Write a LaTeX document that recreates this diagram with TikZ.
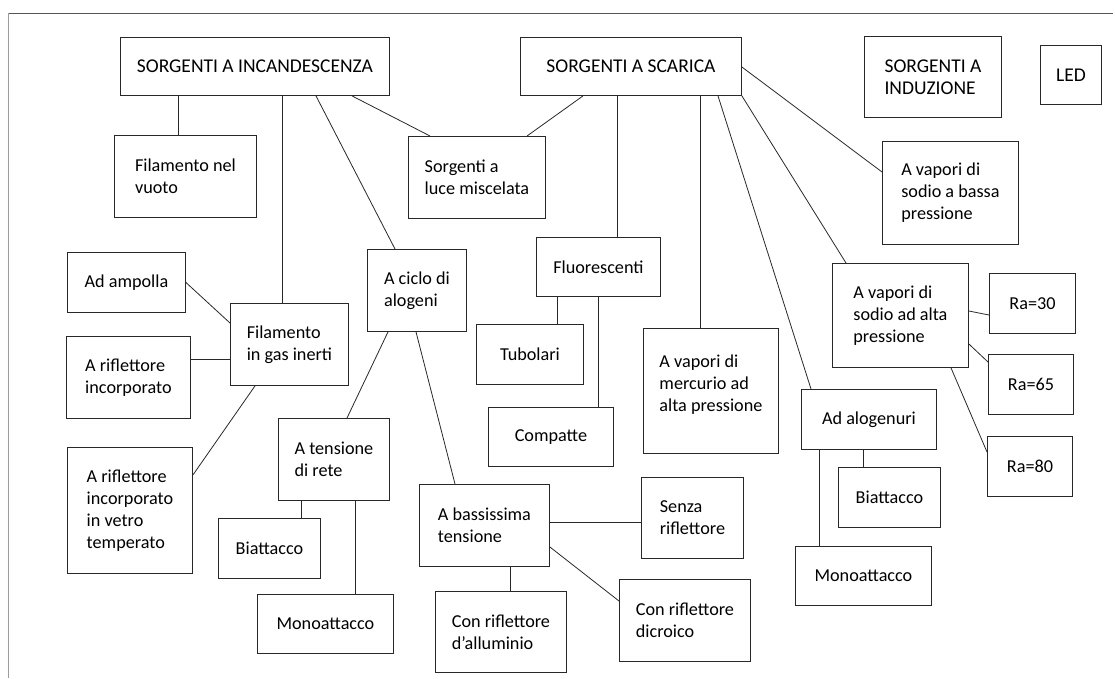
\documentclass[tikz,border=0pt]{standalone}
\usepackage{fontspec}
\setmainfont{Carlito}
\definecolor{linegrey}{RGB}{40,40,40}
\definecolor{framegrey}{RGB}{85,85,85}
\definecolor{sidegrey}{RGB}{160,156,156}

\begin{document}
\begin{tikzpicture}[x=1pt, y=-1pt,
  voce/.style 2 args={draw=linegrey, line width=0.9pt, anchor=north west, align=left,
    inner sep=0pt, minimum width=#1pt, minimum height=#2pt,
    font=\fontsize{18.2}{22}\selectfont},
  titolo/.style={font=\fontsize{19.5}{22}\selectfont},
  ramo/.style={draw=linegrey, line width=0.8pt}]
  \useasboundingbox (0,0) rectangle (1115,678);

  % cornice
  \draw[framegrey, line width=1pt] (8,13) -- (1113,13);
  \draw[sidegrey, line width=1.5pt] (8.5,13) -- (8.5,678);

  % famiglie
  \node[voce={269}{58}, titolo] (incand) at (120,37) {SORGENTI A INCANDESCENZA};
  \node[voce={221}{58}, titolo] (scarica) at (520,37) {SORGENTI A SCARICA};
  \node[voce={137}{81}, titolo] (induz) at (864,36) {SORGENTI A\\INDUZIONE};
  \node[voce={61}{59}, titolo] (led) at (1040,45) {LED};

  % incandescenza
  \node[voce={142}{82}] (vuoto) at (114,135) {Filamento nel\\vuoto};
  \node[voce={137}{82}] (miscel) at (408,136) {Sorgenti a\\luce miscelata};
  \node[voce={118}{60}] (ampolla) at (67,252) {Ad ampolla};
  \node[voce={118}{82}] (filgas) at (230,303) {Filamento\\in gas inerti};
  \node[voce={124}{82}] (riflinc) at (66,336) {A riflettore\\incorporato};
  \node[voce={125}{126}] (vetro) at (67,447) {A riflettore\\incorporato\\in vetro\\temperato};
  \node[voce={99}{82}] (ciclo) at (367,249) {A ciclo di\\alogeni};
  \node[voce={111}{82}] (tensione) at (278,418) {A tensione\\di rete};
  \node[voce={102}{60}] (biattL) at (218,518) {Biattacco};
  \node[voce={136}{59}] (monoL) at (257,594) {Monoattacco};
  \node[voce={130}{82}] (bass) at (419,484) {A bassissima\\tensione};
  \node[voce={102}{81}] (senza) at (641,477) {Senza\\riflettore};
  \node[voce={131}{82}] (dicro) at (619,579) {Con riflettore\\dicroico};
  \node[voce={131}{81}] (allum) at (435,591) {Con riflettore\\d’alluminio};

  % scarica
  \node[voce={136}{103}] (sodiob) at (882,141) {A vapori di\\sodio a bassa\\pressione};
  \node[voce={124}{59}] (fluor) at (536,237) {Fluorescenti};
  \node[voce={107}{60}] (tubol) at (476,324) {Tubolari};
  \node[voce={125}{59}] (compat) at (488,407) {Compatte};
  \node[voce={135}{125}, text depth=16pt] (mercur) at (643,328) {A vapori di\\mercurio ad\\alta pressione};
  \node[voce={136}{104}] (sodioa) at (832,263) {A vapori di\\sodio ad alta\\pressione};
  \node[voce={86}{60}] (ra30) at (989,273) {Ra=30};
  \node[voce={85}{60}] (ra65) at (988,354) {Ra=65};
  \node[voce={85}{60}] (ra80) at (987,436) {Ra=80};
  \node[voce={135}{60}] (alogen) at (801,389) {Ad alogenuri};
  \node[voce={102}{60}] (biattR) at (838,467) {Biattacco};
  \node[voce={136}{59}] (monoR) at (795,546) {Monoattacco};

  % rami incandescenza
  \draw[ramo] ([xshift=58pt]incand.south west) -- ([xshift=64pt]vuoto.north west);
  \draw[ramo] ([xshift=162pt]incand.south west) -- ([xshift=52pt]filgas.north west);
  \draw[ramo] ([xshift=196pt]incand.south west) -- ([xshift=28pt]ciclo.north west);
  \draw[ramo] ([xshift=232pt]incand.south west) -- ([xshift=22pt]miscel.north west);
  \draw[ramo] (ampolla.east) -- ([yshift=-20pt]filgas.north west);
  \draw[ramo] ([yshift=-23pt]riflinc.north east) -- ([yshift=-56pt]filgas.north west);
  \draw[ramo] ([xshift=25pt]filgas.south west) -- ([yshift=-28pt]vetro.north east);
  \draw[ramo] ([xshift=21pt]ciclo.south west) -- ([xshift=69pt]tensione.north west);
  \draw[ramo] ([xshift=49pt]ciclo.south west) -- ([xshift=36pt]bass.north west);
  \draw[ramo] ([xshift=23pt]tensione.south west) -- ([xshift=83pt]biattL.north west);
  \draw[ramo] ([xshift=77pt]tensione.south west) -- ([xshift=98pt]monoL.north west);
  \draw[ramo] ([xshift=91pt]bass.south west) -- ([xshift=75pt]allum.north west);
  \draw[ramo] ([yshift=-38pt]bass.north east) -- ([yshift=-45pt]senza.north west);
  \draw[ramo] ([yshift=-63pt]bass.north east) -- ([yshift=-22pt]dicro.north west);

  % rami scarica
  \draw[ramo] ([xshift=63pt]scarica.south west) -- ([xshift=119pt]miscel.north west);
  \draw[ramo] ([xshift=97pt]scarica.south west) -- ([xshift=81pt]fluor.north west);
  \draw[ramo] ([xshift=180pt]scarica.south west) -- ([xshift=57pt]mercur.north west);
  \draw[ramo] ([xshift=198pt]scarica.south west) -- ([xshift=10pt]alogen.north west);
  \draw[ramo] (scarica.south east) -- ([xshift=14pt]sodioa.north west);
  \draw[ramo] ([yshift=-30pt]scarica.north east) -- ([yshift=-31pt]sodiob.north west);
  \draw[ramo] ([xshift=21pt]fluor.south west) -- ([xshift=81pt]tubol.north west);
  \draw[ramo] ([xshift=62pt]fluor.south west) -- ([xshift=110pt]compat.north west);
  \draw[ramo] ([yshift=-48pt]sodioa.north east) -- ([yshift=-42pt]ra30.north west);
  \draw[ramo] ([yshift=-81pt]sodioa.north east) -- ([yshift=-8pt]ra65.north west);
  \draw[ramo] ([xshift=119pt]sodioa.south west) -- ([yshift=-16pt]ra80.north west);
  \draw[ramo] ([xshift=18pt]alogen.south west) -- ([xshift=24pt]monoR.north west);
  \draw[ramo] ([xshift=62pt]alogen.south west) -- ([xshift=25pt]biattR.north west);
\end{tikzpicture}
\end{document}
